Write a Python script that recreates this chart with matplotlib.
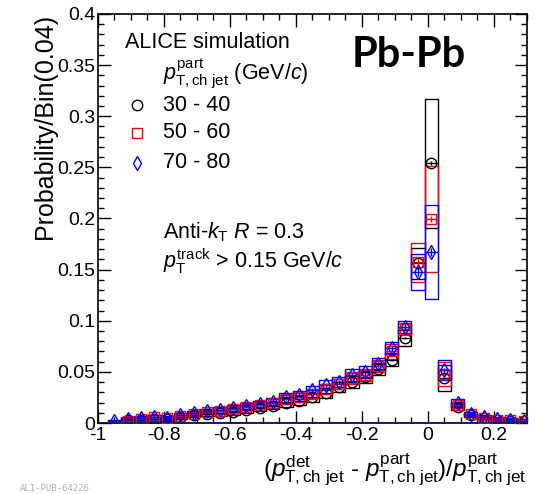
import numpy as np
import matplotlib
matplotlib.use("Agg")
import matplotlib.pyplot as plt
from matplotlib.patches import Rectangle
from matplotlib.ticker import MultipleLocator, FixedLocator

plt.rcParams['font.family'] = ['Liberation Sans', 'DejaVu Sans']
plt.rcParams['mathtext.fontset'] = 'custom'
plt.rcParams['mathtext.rm'] = 'Liberation Sans'
plt.rcParams['mathtext.it'] = 'Liberation Sans:italic'
plt.rcParams['mathtext.bf'] = 'Liberation Sans:bold'

# Bin centres of the relative jet-momentum shift (bin width 0.04)
bin_centers = [-0.95, -0.91, -0.87, -0.83, -0.79, -0.75, -0.71, -0.67,
               -0.63, -0.59, -0.55, -0.51, -0.47, -0.43, -0.39, -0.35,
               -0.31, -0.27, -0.23, -0.19, -0.15, -0.11, -0.07, -0.03,
               0.01, 0.05, 0.09, 0.13, 0.17, 0.21, 0.25, 0.29]
bin_width = 0.04

nan = np.nan
# 30 - 40 GeV/c
prob_30_40 = [nan, 0.003, 0.0025, 0.004, 0.004, 0.006, 0.008, 0.009,
              0.010, 0.011, 0.013, 0.015, 0.017, 0.020, 0.022, 0.025,
              0.029, 0.035, 0.040, 0.045, 0.053, 0.062, 0.083, 0.156,
              0.254, 0.044, 0.016, 0.008, 0.005, 0.003, 0.002, 0.002]
sys_30_40 = [nan, 0.002, 0.002, 0.002, 0.002, 0.002, 0.002, 0.002,
             0.003, 0.003, 0.003, 0.003, 0.003, 0.004, 0.004, 0.004,
             0.005, 0.005, 0.006, 0.006, 0.006, 0.006, 0.008, 0.015,
             0.063, 0.013, 0.003, 0.002, 0.002, 0.002, 0.002, 0.002]
stat_30_40 = [nan, 0.001, 0.001, 0.001, 0.001, 0.001, 0.001, 0.001,
              0.001, 0.001, 0.001, 0.001, 0.001, 0.001, 0.001, 0.001,
              0.001, 0.001, 0.001, 0.001, 0.001, 0.001, 0.001, 0.002,
              0.002, 0.001, 0.001, 0.001, 0.001, 0.001, 0.001, 0.001]

# 50 - 60 GeV/c
prob_50_60 = [nan, 0.002, 0.004, 0.006, 0.005, 0.007, 0.009, 0.011,
              0.012, 0.014, 0.016, 0.018, 0.020, 0.023, 0.025, 0.028,
              0.033, 0.038, 0.044, 0.047, 0.056, 0.070, 0.092, 0.157,
              0.1995, 0.048, 0.018, 0.009, 0.005, 0.003, 0.003, 0.002]
sys_50_60 = [nan, 0.003, 0.002, 0.002, 0.002, 0.002, 0.002, 0.002,
             0.003, 0.003, 0.003, 0.003, 0.003, 0.004, 0.004, 0.004,
             0.005, 0.005, 0.006, 0.006, 0.006, 0.007, 0.006, 0.0195,
             0.052, 0.012, 0.003, 0.002, 0.002, 0.002, 0.002, 0.002]
stat_50_60 = [nan, 0.001, 0.001, 0.001, 0.001, 0.001, 0.001, 0.001,
              0.001, 0.001, 0.001, 0.001, 0.001, 0.001, 0.001, 0.001,
              0.001, 0.001, 0.001, 0.002, 0.002, 0.002, 0.002, 0.004,
              0.003, 0.001, 0.001, 0.001, 0.001, 0.001, 0.001, 0.001]

# 70 - 80 GeV/c
prob_70_80 = [0.0015, 0.004, 0.005, 0.006, 0.005, 0.008, 0.010, 0.012,
              0.013, 0.015, 0.017, 0.019, 0.021, 0.025, 0.027, 0.032,
              0.037, 0.040, 0.047, 0.050, 0.058, 0.073, 0.094, 0.148,
              0.167, 0.052, 0.020, 0.009, 0.006, 0.004, 0.003, 0.002]
sys_70_80 = [0.001, 0.002, 0.002, 0.002, 0.002, 0.002, 0.002, 0.002,
             0.003, 0.003, 0.003, 0.003, 0.003, 0.004, 0.004, 0.004,
             0.005, 0.005, 0.006, 0.006, 0.006, 0.006, 0.006, 0.0175,
             0.046, 0.010, 0.003, 0.002, 0.002, 0.002, 0.002, 0.002]
stat_70_80 = [0.001, 0.001, 0.001, 0.001, 0.001, 0.001, 0.001, 0.001,
              0.001, 0.001, 0.001, 0.001, 0.002, 0.002, 0.002, 0.002,
              0.002, 0.002, 0.002, 0.002, 0.002, 0.003, 0.003, 0.004,
              0.004, 0.002, 0.001, 0.001, 0.001, 0.001, 0.001, 0.001]

series = [
    ("30 - 40", prob_30_40, sys_30_40, stat_30_40, "black", "o", 7.5),
    ("50 - 60", prob_50_60, sys_50_60, stat_50_60, "red", "s", 7.0),
    ("70 - 80", prob_70_80, sys_70_80, stat_70_80, "blue", "d", 7.5),
]

fig = plt.figure(figsize=(5.42, 4.94), dpi=100)
ax = fig.add_axes([0.1808, 0.1437, 0.7915, 0.828])

x = np.array(bin_centers)
for label, y, sys, stat, col, mk, ms in series:
    y = np.array(y); sys = np.array(sys); stat = np.array(stat)
    for xi, yi, si in zip(x, y, sys):
        if np.isnan(yi):
            continue
        ax.add_patch(Rectangle((xi - bin_width / 2, yi - si), bin_width, 2 * si,
                               fill=False, edgecolor=col, lw=1.0, zorder=2))
    ax.errorbar(x, y, xerr=bin_width / 2, yerr=stat, fmt=mk, color=col,
                mfc='none', mec=col, ms=ms, mew=1.0, elinewidth=1.0,
                capsize=0, zorder=3)

ax.axhline(0, color='#1a1a66', lw=1.5, zorder=4)

ax.set_xlim(-1.0, 0.3)
ax.set_ylim(0, 0.4)

ax.xaxis.set_major_locator(FixedLocator([-1.0, -0.8, -0.6, -0.4, -0.2, 0.0, 0.2]))
ax.xaxis.set_minor_locator(MultipleLocator(0.05))
ax.yaxis.set_minor_locator(MultipleLocator(0.01))

ax.set_xticklabels(["-1", "-0.8", "-0.6", "-0.4", "-0.2", "0", "0.2"])
ax.set_yticks([0, 0.05, 0.1, 0.15, 0.2, 0.25, 0.3, 0.35, 0.4])
ax.set_yticklabels(["0", "0.05", "0.1", "0.15", "0.2", "0.25", "0.3", "0.35", "0.4"])

ax.tick_params(which='both', direction='in', top=True, right=True,
               labelsize=14, width=1.0)
ax.tick_params(which='major', length=9)
ax.tick_params(which='minor', length=4.5)
ax.tick_params(axis='x', pad=3)
ax.tick_params(axis='y', pad=2)
for sp in ax.spines.values():
    sp.set_linewidth(1.2)

ax.set_ylabel("Probability/Bin(0.04)", fontsize=18, loc='top', labelpad=0)
fig.text(0.972, 0.012,
         r"$(p^{\rm det}_{\rm T,ch\ jet}$ - $p^{\rm part}_{\rm T,ch\ jet})/p^{\rm part}_{\rm T,ch\ jet}$",
         fontsize=17.5, ha='right', va='bottom')

# Annotations inside the frame
def fx(px):
    return px / 542.0

def fy(py):
    return 1 - py / 494.0

fs = 15.5
fig.text(fx(125), fy(43), "ALICE simulation", fontsize=fs, va='center', ha='left')
fig.text(fx(163), fy(74), r"$p^{\rm part}_{\rm T,ch\ jet}$ (GeV/$c$)",
         fontsize=fs, va='center', ha='left')
legend_y = [105, 133, 163]
for (label, y, sys, stat, col, mk, ms), py in zip(series, legend_y):
    fig.lines.append(plt.Line2D([fx(137)], [fy(py)], marker=mk, color=col,
                                mfc='none', mec=col, ms=ms, mew=1.0,
                                transform=fig.transFigure, figure=fig))
    fig.text(fx(163), fy(py), label, fontsize=fs, va='center', ha='left')

fig.text(fx(163), fy(232), r"Anti-$k_{\rm T}$ $R$ = 0.3", fontsize=fs,
         va='center', ha='left')
fig.text(fx(163), fy(261), r"$p^{\rm track}_{\rm T}$ > 0.15 GeV/$c$", fontsize=fs,
         va='center', ha='left')

fig.text(fx(352), fy(55), "Pb-Pb", fontsize=30, fontweight='bold',
         family=['Lato', 'DejaVu Sans'], va='center', ha='left')

fig.text(fx(20), fy(488), "ALI-PUB-64226", fontsize=6.5, color='#b0b0b0',
         family=['DejaVu Sans Mono'], va='center', ha='left')

fig.savefig("out.png", dpi=100)
